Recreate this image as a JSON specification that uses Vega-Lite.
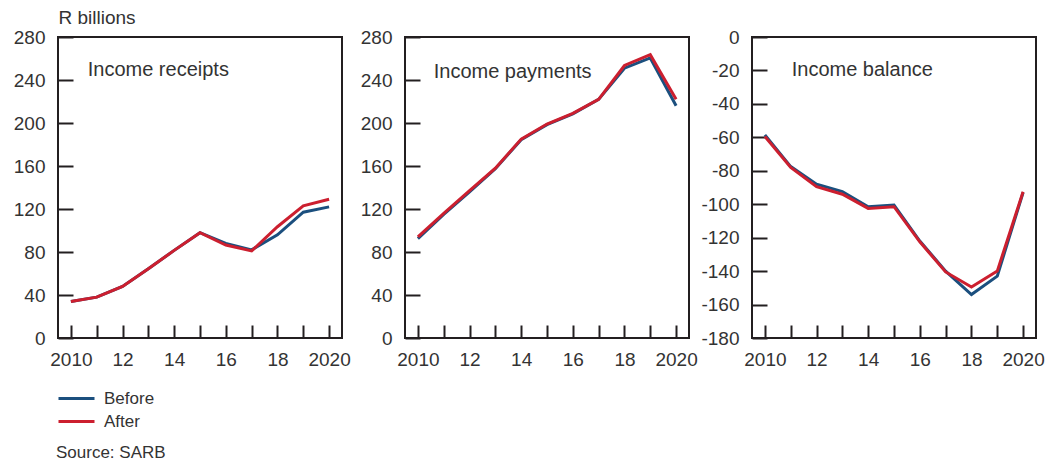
{
  "$schema": "https://vega.github.io/schema/vega-lite/v6.json",
  "background": "white",
  "padding": {"left": 12, "top": 7, "right": 5, "bottom": 5},
  "bounds": "flush",
  "spacing": 63,
  "config": {
    "font": "Liberation Sans",
    "view": {"stroke": "#231f20", "strokeWidth": 2},
    "axis": {"domain": false, "grid": false, "labelFontSize": 19, "labelColor": "#333333", "tickColor": "#231f20", "tickWidth": 2, "labelFont": "Liberation Sans"},
    "axisX": {"bandPosition": 0, "tickSize": -13, "labelPadding": 25, "labelAngle": 0, "labelOverlap": false, "title": null,
      "labelExpr": "datum.value % 2 == 0 ? ((datum.value == 2010 || datum.value == 2020) ? datum.label : substring(datum.label, 2)) : ''"},
    "axisY": {"tickSize": -15, "labelPadding": 28, "labelOverlap": false, "labelExpr": "'' + datum.value", "title": null}
  },
  "title": {"text": "Source: SARB", "orient": "bottom", "anchor": "start", "frame": "group", "fontSize": 17, "fontWeight": "normal", "color": "#333333", "offset": 15, "dx": -2},
  "datasets": {
    "d": [
      {"panel": "receipts", "series": "Before", "year": 2010, "value": 34},
      {"panel": "receipts", "series": "Before", "year": 2011, "value": 38},
      {"panel": "receipts", "series": "Before", "year": 2012, "value": 48},
      {"panel": "receipts", "series": "Before", "year": 2013, "value": 64.5},
      {"panel": "receipts", "series": "Before", "year": 2014, "value": 81.5},
      {"panel": "receipts", "series": "Before", "year": 2015, "value": 98},
      {"panel": "receipts", "series": "Before", "year": 2016, "value": 88},
      {"panel": "receipts", "series": "Before", "year": 2017, "value": 82},
      {"panel": "receipts", "series": "Before", "year": 2018, "value": 96},
      {"panel": "receipts", "series": "Before", "year": 2019, "value": 117},
      {"panel": "receipts", "series": "Before", "year": 2020, "value": 122},
      {"panel": "receipts", "series": "After", "year": 2010, "value": 34},
      {"panel": "receipts", "series": "After", "year": 2011, "value": 38},
      {"panel": "receipts", "series": "After", "year": 2012, "value": 48},
      {"panel": "receipts", "series": "After", "year": 2013, "value": 64.5},
      {"panel": "receipts", "series": "After", "year": 2014, "value": 81.5},
      {"panel": "receipts", "series": "After", "year": 2015, "value": 98},
      {"panel": "receipts", "series": "After", "year": 2016, "value": 86.5},
      {"panel": "receipts", "series": "After", "year": 2017, "value": 81},
      {"panel": "receipts", "series": "After", "year": 2018, "value": 103.5},
      {"panel": "receipts", "series": "After", "year": 2019, "value": 123},
      {"panel": "receipts", "series": "After", "year": 2020, "value": 129},
      {"panel": "payments", "series": "Before", "year": 2010, "value": 92.5},
      {"panel": "payments", "series": "Before", "year": 2011, "value": 115},
      {"panel": "payments", "series": "Before", "year": 2012, "value": 136},
      {"panel": "payments", "series": "Before", "year": 2013, "value": 157.5},
      {"panel": "payments", "series": "Before", "year": 2014, "value": 184.5},
      {"panel": "payments", "series": "Before", "year": 2015, "value": 198.5},
      {"panel": "payments", "series": "Before", "year": 2016, "value": 208.5},
      {"panel": "payments", "series": "Before", "year": 2017, "value": 222},
      {"panel": "payments", "series": "Before", "year": 2018, "value": 251},
      {"panel": "payments", "series": "Before", "year": 2019, "value": 260.5},
      {"panel": "payments", "series": "Before", "year": 2020, "value": 216},
      {"panel": "payments", "series": "After", "year": 2010, "value": 94},
      {"panel": "payments", "series": "After", "year": 2011, "value": 116},
      {"panel": "payments", "series": "After", "year": 2012, "value": 137},
      {"panel": "payments", "series": "After", "year": 2013, "value": 158},
      {"panel": "payments", "series": "After", "year": 2014, "value": 185},
      {"panel": "payments", "series": "After", "year": 2015, "value": 199},
      {"panel": "payments", "series": "After", "year": 2016, "value": 209},
      {"panel": "payments", "series": "After", "year": 2017, "value": 222},
      {"panel": "payments", "series": "After", "year": 2018, "value": 253.5},
      {"panel": "payments", "series": "After", "year": 2019, "value": 263.5},
      {"panel": "payments", "series": "After", "year": 2020, "value": 222},
      {"panel": "balance", "series": "Before", "year": 2010, "value": -58.5},
      {"panel": "balance", "series": "Before", "year": 2011, "value": -77.5},
      {"panel": "balance", "series": "Before", "year": 2012, "value": -88},
      {"panel": "balance", "series": "Before", "year": 2013, "value": -92.5},
      {"panel": "balance", "series": "Before", "year": 2014, "value": -101.5},
      {"panel": "balance", "series": "Before", "year": 2015, "value": -100.5},
      {"panel": "balance", "series": "Before", "year": 2016, "value": -122},
      {"panel": "balance", "series": "Before", "year": 2017, "value": -140},
      {"panel": "balance", "series": "Before", "year": 2018, "value": -154},
      {"panel": "balance", "series": "Before", "year": 2019, "value": -143},
      {"panel": "balance", "series": "Before", "year": 2020, "value": -93},
      {"panel": "balance", "series": "After", "year": 2010, "value": -59.5},
      {"panel": "balance", "series": "After", "year": 2011, "value": -78},
      {"panel": "balance", "series": "After", "year": 2012, "value": -89.5},
      {"panel": "balance", "series": "After", "year": 2013, "value": -94},
      {"panel": "balance", "series": "After", "year": 2014, "value": -102.5},
      {"panel": "balance", "series": "After", "year": 2015, "value": -101.5},
      {"panel": "balance", "series": "After", "year": 2016, "value": -122.5},
      {"panel": "balance", "series": "After", "year": 2017, "value": -140.5},
      {"panel": "balance", "series": "After", "year": 2018, "value": -149.5},
      {"panel": "balance", "series": "After", "year": 2019, "value": -140},
      {"panel": "balance", "series": "After", "year": 2020, "value": -92.5}
    ]
  },
  "hconcat": [
    {
      "width": 284, "height": 301,
      "layer": [
        {
          "data": {"name": "d"},
          "transform": [{"filter": "datum.panel == 'receipts'"}],
          "mark": {"type": "line", "strokeWidth": 3},
          "encoding": {
            "x": {"field": "year", "type": "ordinal", "scale": {"paddingInner": 0, "paddingOuter": 0}},
            "y": {"field": "value", "type": "quantitative", "scale": {"domain": [0, 280], "nice": false},
              "axis": {"values": [0, 40, 80, 120, 160, 200, 240, 280], "title": "R billions", "titleAngle": 0, "titleAlign": "left", "titleBaseline": "alphabetic", "titleX": 0, "titleY": -14, "titleFontSize": 19, "titleFontWeight": "normal", "titleColor": "#333333"}},
            "color": {"field": "series", "type": "nominal", "scale": {"domain": ["Before", "After"], "range": ["#1b4f7e", "#cc1f2f"]},
              "legend": {"title": null, "orient": "none", "legendX": 10, "legendY": 353, "symbolType": "M-3,0H3", "symbolSize": 144, "symbolStrokeWidth": 3, "symbolFillColor": "transparent", "labelFontSize": 17, "labelColor": "#333333", "labelOffset": 19, "rowPadding": 5, "direction": "vertical"}}
          }
        },
        {
          "data": {"values": [{}]},
          "mark": {"type": "text", "align": "left", "baseline": "middle", "fontSize": 20, "color": "#333333", "dx": -9},
          "encoding": {
            "x": {"datum": 2011, "type": "ordinal"},
            "y": {"datum": 249, "type": "quantitative", "axis": {"values": [0, 40, 80, 120, 160, 200, 240, 280], "title": "R billions", "titleAngle": 0, "titleAlign": "left", "titleBaseline": "alphabetic", "titleX": 0, "titleY": -14, "titleFontSize": 19, "titleFontWeight": "normal", "titleColor": "#333333"}},
            "text": {"value": "Income receipts"}
          }
        }
      ]
    },
    {
      "width": 284, "height": 301,
      "layer": [
        {
          "data": {"name": "d"},
          "transform": [{"filter": "datum.panel == 'payments'"}],
          "mark": {"type": "line", "strokeWidth": 3},
          "encoding": {
            "x": {"field": "year", "type": "ordinal", "scale": {"paddingInner": 0, "paddingOuter": 0}},
            "y": {"field": "value", "type": "quantitative", "scale": {"domain": [0, 280], "nice": false},
              "axis": {"values": [0, 40, 80, 120, 160, 200, 240, 280]}},
            "color": {"field": "series", "type": "nominal"}
          }
        },
        {
          "data": {"values": [{}]},
          "mark": {"type": "text", "align": "left", "baseline": "middle", "fontSize": 20, "color": "#333333", "dx": -10},
          "encoding": {
            "x": {"datum": 2011, "type": "ordinal"},
            "y": {"datum": 247, "type": "quantitative", "axis": {"values": [0, 40, 80, 120, 160, 200, 240, 280]}},
            "text": {"value": "Income payments"}
          }
        }
      ]
    },
    {
      "width": 284, "height": 301,
      "layer": [
        {
          "data": {"name": "d"},
          "transform": [{"filter": "datum.panel == 'balance'"}],
          "mark": {"type": "line", "strokeWidth": 3},
          "encoding": {
            "x": {"field": "year", "type": "ordinal", "scale": {"paddingInner": 0, "paddingOuter": 0}},
            "y": {"field": "value", "type": "quantitative", "scale": {"domain": [-180, 0], "nice": false},
              "axis": {"values": [-180, -160, -140, -120, -100, -80, -60, -40, -20, 0]}},
            "color": {"field": "series", "type": "nominal"}
          }
        },
        {
          "data": {"values": [{}]},
          "mark": {"type": "text", "align": "left", "baseline": "middle", "fontSize": 20, "color": "#333333", "dx": 1},
          "encoding": {
            "x": {"datum": 2011, "type": "ordinal"},
            "y": {"datum": -19.5, "type": "quantitative", "axis": {"values": [-180, -160, -140, -120, -100, -80, -60, -40, -20, 0]}},
            "text": {"value": "Income balance"}
          }
        }
      ]
    }
  ]
}
